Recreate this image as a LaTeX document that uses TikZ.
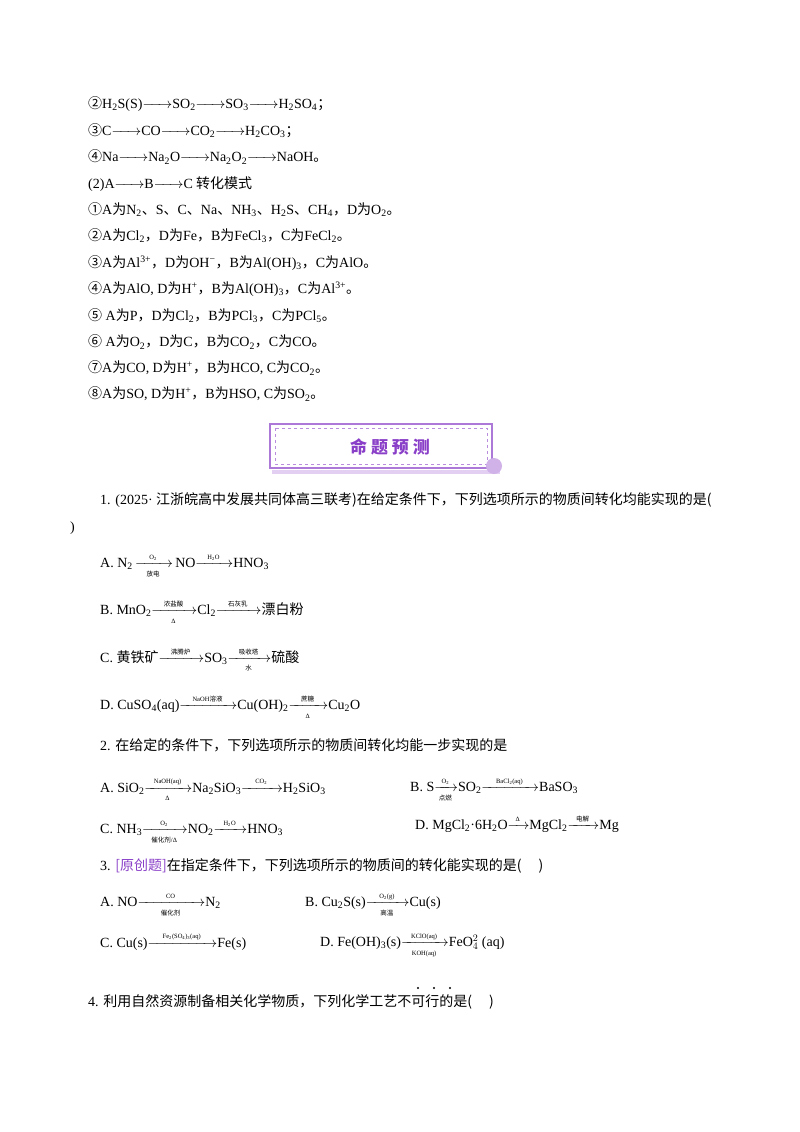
\documentclass[tikz,border=0pt]{standalone}
\usepackage{fontspec}
\usepackage{amsmath}
\setmainfont{Liberation Serif}
\newfontfamily\cjk{Noto Sans CJK SC}
\newcommand{\zh}[1]{{\cjk #1}}
\newcommand{\sbx}[1]{\textsubscript{#1}}
\newcommand{\spx}[1]{\textsuperscript{#1}}
\newcommand{\arx}{$\xrightarrow{\hspace{22pt}}$}
\newcommand{\lbx}[1]{\text{\fontsize{6.5}{7}\selectfont #1}}
\newcommand{\rx}[3]{$\xrightarrow[{\makebox[#1pt]{\lbx{#3}}}]{\makebox[#1pt]{\lbx{#2}}}$}
\definecolor{pur}{HTML}{8A3FC8}
\begin{document}
\begin{tikzpicture}[x=1pt,y=-1pt,
  t/.style={anchor=west,inner sep=0pt,font=\fontsize{14}{16}\selectfont}]
\useasboundingbox (0,0) rectangle (800,1132);
\fill[white] (0,0) rectangle (800,1132);
\node[t] (l1) at (88,104) {\zh{②}H\sbx{2}S(S)\arx SO\sbx{2}\arx SO\sbx{3}\arx H\sbx{2}SO\sbx{4}\zh{；}};
\node[t] (l2) at (88,131) {\zh{③}C\arx CO\arx CO\sbx{2}\arx H\sbx{2}CO\sbx{3}\zh{；}};
\node[t] (l3) at (88,157) {\zh{④}Na\arx Na\sbx{2}O\arx Na\sbx{2}O\sbx{2}\arx NaOH\zh{。}};
\node[t] (l4) at (88,184) {(2)A\arx B\arx C\zh{ 转化模式}};
\node[t] (l5) at (88,210) {\zh{①}A\zh{为}N\sbx{2}\zh{、}S\zh{、}C\zh{、}Na\zh{、}NH\sbx{3}\zh{、}H\sbx{2}S\zh{、}CH\sbx{4}\zh{，}D\zh{为}O\sbx{2}\zh{。}};
\node[t] (l6) at (88,236) {\zh{②}A\zh{为}Cl\sbx{2}\zh{，}D\zh{为}Fe\zh{，}B\zh{为}FeCl\sbx{3}\zh{，}C\zh{为}FeCl\sbx{2}\zh{。}};
\node[t] (l7) at (88,263) {\zh{③}A\zh{为}Al\spx{3+}\zh{，}D\zh{为}OH\spx{−}\zh{，}B\zh{为}Al(OH)\sbx{3}\zh{，}C\zh{为}AlO\zh{。}};
\node[t] (l8) at (88,289) {\zh{④}A\zh{为}AlO, D\zh{为}H\spx{+}\zh{，}B\zh{为}Al(OH)\sbx{3}\zh{，}C\zh{为}Al\spx{3+}\zh{。}};
\node[t] (l9) at (88,316) {\zh{⑤} A\zh{为}P\zh{，}D\zh{为}Cl\sbx{2}\zh{，}B\zh{为}PCl\sbx{3}\zh{，}C\zh{为}PCl\sbx{5}\zh{。}};
\node[t] (l10) at (88,342) {\zh{⑥} A\zh{为}O\sbx{2}\zh{，}D\zh{为}C\zh{，}B\zh{为}CO\sbx{2}\zh{，}C\zh{为}CO\zh{。}};
\node[t] (l11) at (88,368) {\zh{⑦}A\zh{为}CO, D\zh{为}H\spx{+}\zh{，}B\zh{为}HCO, C\zh{为}CO\sbx{2}\zh{。}};
\node[t] (l12) at (88,394) {\zh{⑧}A\zh{为}SO, D\zh{为}H\spx{+}\zh{，}B\zh{为}HSO, C\zh{为}SO\sbx{2}\zh{。}};
% banner
\fill[pur!25] (272,470) rectangle (500,474);
\draw[pur!70,line width=1.2pt,fill=white] (270,424) rectangle (492,468);
\draw[pur!60,dashed] (275,428) rectangle (487,464);
\fill[pur!40] (494,466) circle (8);
\node[font=\cjk\bfseries\fontsize{17}{19}\selectfont,text=pur] (ban) at (390,447) {命 题 预 测};
% Q1
\node[t] (q1) at (100,500) {1. (2025· \zh{江浙皖高中发展共同体高三联考)在给定条件下，下列选项所示的物质间转化均能实现的是(}};
\node[t] (q1b) at (70,528) {)};
\node[t] (q1a) at (100,566) {A. N\sbx{2}\,\rx{30}{O\sbx{2}}{\zh{放电}}\,NO\rx{30}{H\sbx{2}O}{}HNO\sbx{3}};
\node[t] (q1bb) at (100,612) {B. MnO\sbx{2}\rx{38}{\zh{浓盐酸}}{Δ}Cl\sbx{2}\rx{38}{\zh{石灰乳}}{}\zh{漂白粉}};
\node[t] (q1c) at (100,660) {C. \zh{黄铁矿}\rx{38}{\zh{沸腾炉}}{}SO\sbx{3}\rx{36}{\zh{吸收塔}}{\zh{水}}\zh{硫酸}};
\node[t] (q1d) at (100,707) {D. CuSO\sbx{4}(aq)\rx{50}{NaOH\zh{溶液}}{}Cu(OH)\sbx{2}\rx{32}{\zh{蔗糖}}{Δ}Cu\sbx{2}O};
% Q2
\node[t] (q2) at (100,745) {2. \zh{在给定的条件下，下列选项所示的物质间转化均能一步实现的是}};
\node[t] (q2a) at (100,790) {A. SiO\sbx{2}\rx{40}{NaOH(aq)}{Δ}Na\sbx{2}SiO\sbx{3}\rx{34}{CO\sbx{2}}{}H\sbx{2}SiO\sbx{3}};
\node[t] (q2b) at (410,790) {B. S\rx{16}{O\sbx{2}}{\zh{点燃}}SO\sbx{2}\rx{50}{BaCl\sbx{2}(aq)}{}BaSO\sbx{3}};
\node[t] (q2c) at (100,832) {C. NH\sbx{3}\rx{38}{O\sbx{2}}{\zh{催化剂}/Δ}NO\sbx{2}\rx{26}{H\sbx{2}O}{}HNO\sbx{3}};
\node[t] (q2d) at (415,827) {D. MgCl\sbx{2}·6H\sbx{2}O\rx{14}{Δ}{}MgCl\sbx{2}\rx{24}{\zh{电解}}{}Mg};
% Q3
\node[t] (q3) at (100,866) {3. \textcolor{pur}{\zh{[原创题]}}\zh{在指定条件下，下列选项所示的物质间的转化能实现的是(\quad\ )}};
\node[t] (q3a) at (100,905) {A. NO\rx{60}{CO}{\zh{催化剂}}N\sbx{2}};
\node[t] (q3b) at (305,905) {B. Cu\sbx{2}S(s)\rx{36}{O\sbx{2}(g)}{\zh{高温}}Cu(s)};
\node[t] (q3c) at (100,945) {C. Cu(s)\rx{62}{Fe\sbx{2}(SO\sbx{4})\sbx{3}(aq)}{}Fe(s)};
\node[t] (q3d) at (320,945) {D. Fe(OH)\sbx{3}(s)\rx{40}{KClO(aq)}{KOH(aq)}FeO$^{2}_{4}$ (aq)};
% Q4
\node[t] (q4) at (88,1002) {4. \zh{利用自然资源制备相关化学物质，下列化学工艺不可行的是(\quad\ )}};
\foreach \xx in {418,434,450} \fill (\xx,988) circle (1.1);
\end{tikzpicture}
\end{document}
